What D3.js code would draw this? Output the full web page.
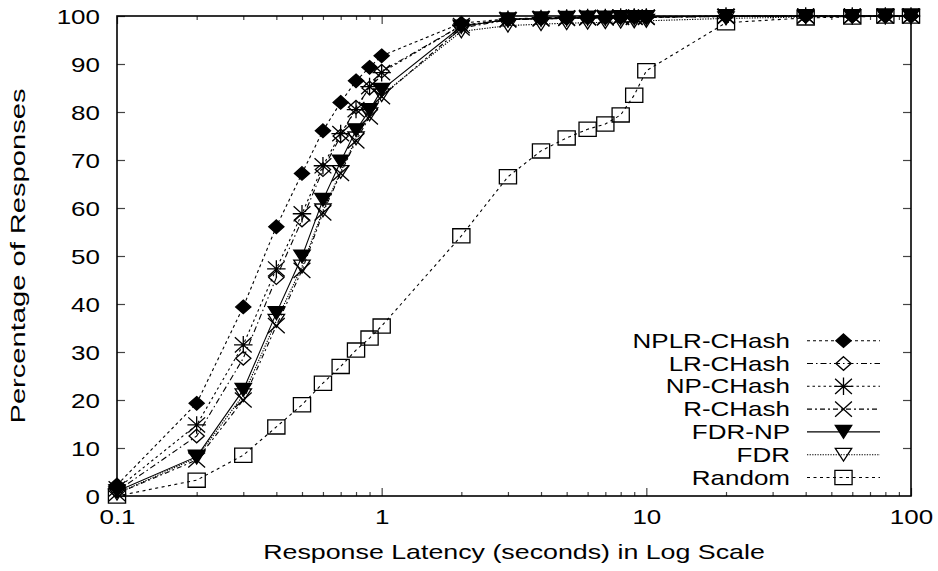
<!DOCTYPE html>
<html>
<head>
<meta charset="utf-8">
<script src="https://cdn.jsdelivr.net/npm/d3@7"></script>
<style>
  html, body { margin: 0; padding: 0; background: #fff; }
  svg { display: block; }
  text { font-family: "Liberation Sans", Arial, Helvetica, sans-serif; fill: #000; }
</style>
</head>
<body>
<svg id="chart" width="938" height="571"></svg>
<script>
// Response latency (seconds) at which each cumulative percentage is measured
const latencies = [0.1, 0.2, 0.3, 0.4, 0.5, 0.6, 0.7, 0.8, 0.9, 1, 2, 3, 4, 5, 6, 7, 8, 9, 10, 20, 40, 60, 80, 100];

// Cumulative percentage of responses per scheme
const nplrCHash = [2.3, 19.3, 39.4, 56.1, 67.2, 76.1, 82.0, 86.5, 89.3, 91.7, 98.5, 99.4, 99.6, 99.7, 99.8, 99.8, 99.8, 99.9, 99.9, 100, 100, 100, 100, 100];
const lrCHash   = [1.0, 12.5, 28.7, 45.5, 57.5, 68.0, 75.0, 81.0, 85.0, 88.5, 98.0, 99.2, 99.4, 99.5, 99.6, 99.6, 99.7, 99.7, 99.7, 99.9, 100, 100, 100, 100];
const npCHash   = [1.5, 14.8, 31.5, 47.3, 58.8, 68.8, 75.5, 80.5, 85.3, 88.2, 98.0, 99.3, 99.5, 99.6, 99.7, 99.7, 99.8, 99.8, 99.8, 100, 100, 100, 100, 100];
const rCHash    = [0.5, 7.5, 20.0, 35.5, 47.0, 59.0, 67.2, 74.0, 79.0, 83.2, 97.5, 99.2, 99.4, 99.5, 99.6, 99.6, 99.7, 99.7, 99.7, 99.9, 100, 100, 100, 100];
const fdrNP     = [1.0, 8.2, 22.1, 38.1, 49.9, 61.7, 69.7, 76.2, 80.4, 84.6, 97.8, 99.3, 99.5, 99.6, 99.7, 99.7, 99.8, 99.8, 99.8, 100, 100, 100, 100, 100];
const fdr       = [0.5, 8.0, 21.0, 36.5, 47.8, 59.5, 67.5, 74.5, 79.5, 83.5, 96.8, 98.0, 98.3, 98.5, 98.6, 98.7, 98.8, 98.9, 99.0, 99.5, 99.8, 99.9, 100, 100];
const random    = [0.0, 3.3, 8.5, 14.4, 19.0, 23.5, 27.0, 30.4, 32.9, 35.4, 54.2, 66.5, 71.9, 74.6, 76.4, 77.5, 79.4, 83.5, 88.6, 98.6, 99.6, 99.8, 100, 100];

const seriesNames = ["NPLR-CHash", "LR-CHash", "NP-CHash", "R-CHash", "FDR-NP", "FDR", "Random"];
const seriesValues = [nplrCHash, lrCHash, npCHash, rCHash, fdrNP, fdr, random];

const xMajorTicks = [0.1, 1, 10, 100];
const xTickLabels = ["0.1", "1", "10", "100"];
const yTicks = [0, 10, 20, 30, 40, 50, 60, 70, 80, 90, 100];

const xTitle = "Response Latency (seconds) in Log Scale";
const yTitle = "Percentage of Responses";

// Per-series drawing style: marker shape and dash pattern
const styles = [
  { marker: "diamondFilled", dash: "3,3" },
  { marker: "diamondOpen",   dash: "6,3,1.5,3" },
  { marker: "star",          dash: "2.5,3" },
  { marker: "cross",         dash: "5,3,2,3" },
  { marker: "triFilled",     dash: null },
  { marker: "triOpen",       dash: "1.3,1.3" },
  { marker: "square",        dash: "3,3.5" }
];

const FONT = 20, SX = 1.3;   // text is drawn slightly wide

const svg = d3.select("#chart");
const plotLeft = 117, plotRight = 911, plotTop = 16, plotBottom = 496;

const x = d3.scaleLog().domain([0.1, 100]).range([plotLeft, plotRight]);
const y = d3.scaleLinear().domain([0, 100]).range([plotBottom, plotTop]);

// Minor ticks 2..9 within each decade
const xMinorTicks = [];
[0.1, 1, 10].forEach(d => { for (let k = 2; k <= 9; k++) xMinorTicks.push(+(d * k).toPrecision(3)); });

function styleAxis(g) {
  g.select(".domain").remove();
  g.selectAll("line").attr("stroke", "#444").attr("stroke-width", 1.2);
}

// Bottom axis: major ticks with labels, minor ticks without
svg.append("g").attr("transform", `translate(0,${plotBottom})`)
  .call(d3.axisBottom(x).tickValues(xMajorTicks).tickSize(-8).tickFormat((d, i) => xTickLabels[i]))
  .call(styleAxis)
  .call(g => g.selectAll("text")
    .attr("y", 0).attr("dy", 0)
    .attr("transform", `translate(0,28) scale(${SX},1)`)
    .attr("font-size", FONT).attr("font-family", null));
svg.append("g").attr("transform", `translate(0,${plotBottom})`)
  .call(d3.axisBottom(x).tickValues(xMinorTicks).tickSize(-4).tickFormat(""))
  .call(styleAxis);

// Top axis mirrors the tick marks
svg.append("g").attr("transform", `translate(0,${plotTop})`)
  .call(d3.axisTop(x).tickValues(xMajorTicks).tickSize(-8).tickFormat(""))
  .call(styleAxis);
svg.append("g").attr("transform", `translate(0,${plotTop})`)
  .call(d3.axisTop(x).tickValues(xMinorTicks).tickSize(-4).tickFormat(""))
  .call(styleAxis);

// Left axis with labels, right axis mirrored ticks
svg.append("g").attr("transform", `translate(${plotLeft},0)`)
  .call(d3.axisLeft(y).tickValues(yTicks).tickSize(-8).tickFormat(d3.format("d")))
  .call(styleAxis)
  .call(g => g.selectAll("text")
    .attr("x", 0).attr("dy", "0.35em")
    .attr("transform", `translate(-17,0) scale(${SX},1)`)
    .attr("font-size", FONT).attr("font-family", null));
svg.append("g").attr("transform", `translate(${plotRight},0)`)
  .call(d3.axisRight(y).tickValues(yTicks.slice(1, -1)).tickSize(-8).tickFormat(""))
  .call(styleAxis);

// Plot border
svg.append("rect")
  .attr("x", plotLeft).attr("y", plotTop)
  .attr("width", plotRight - plotLeft).attr("height", plotBottom - plotTop)
  .attr("fill", "none").attr("stroke", "#000").attr("stroke-width", 1.6);

// Axis titles
svg.append("text")
  .attr("transform", `translate(${(plotLeft + plotRight) / 2},559) scale(1.34,1)`)
  .attr("text-anchor", "middle").attr("font-size", FONT)
  .text(xTitle);
svg.append("text")
  .attr("transform", `translate(25,256) rotate(-90)`)
  .attr("text-anchor", "middle").attr("font-size", FONT)
  .attr("textLength", 335).attr("lengthAdjust", "spacingAndGlyphs")
  .text(yTitle);

// Marker path, centred at (cx, cy)
function markerPath(type, cx, cy) {
  const p = d3.path();
  if (type === "diamondFilled" || type === "diamondOpen") {
    const w = 7.6, h = 6.8;
    p.moveTo(cx, cy - h); p.lineTo(cx + w, cy); p.lineTo(cx, cy + h); p.lineTo(cx - w, cy); p.closePath();
  } else if (type === "square") {
    const w = 8.6, h = 7.1;
    p.rect(cx - w, cy - h, 2 * w, 2 * h);
  } else if (type === "cross") {
    const w = 8.4, h = 7.6;
    p.moveTo(cx - w, cy - h); p.lineTo(cx + w, cy + h);
    p.moveTo(cx - w, cy + h); p.lineTo(cx + w, cy - h);
  } else if (type === "star") {
    const w = 8.4, h = 7.6;
    p.moveTo(cx - w, cy - h); p.lineTo(cx + w, cy + h);
    p.moveTo(cx - w, cy + h); p.lineTo(cx + w, cy - h);
    p.moveTo(cx, cy - h * 1.15); p.lineTo(cx, cy + h * 1.15);
    p.moveTo(cx - w * 1.1, cy); p.lineTo(cx + w * 1.1, cy);
  } else if (type === "triFilled" || type === "triOpen") {
    const w = 8.2, h = 6.4;
    p.moveTo(cx - w, cy - h); p.lineTo(cx + w, cy - h); p.lineTo(cx, cy + h); p.closePath();
  }
  return p.toString();
}
function markerFill(type) {
  return (type === "diamondFilled" || type === "triFilled") ? "#000" : "none";
}

const line = d3.line().x(d => x(d[0])).y(d => y(d[1]));

const plot = svg.append("g");
seriesValues.forEach((vals, si) => {
  const st = styles[si];
  const pts = latencies.map((t, i) => [t, vals[i]]);
  const g = plot.append("g").attr("class", "series");
  g.append("path")
    .attr("d", line(pts))
    .attr("fill", "none").attr("stroke", "#000").attr("stroke-width", 1.1)
    .attr("stroke-dasharray", st.dash);
  g.selectAll("path.mk").data(pts).join("path").attr("class", "mk")
    .attr("d", d => markerPath(st.marker, x(d[0]), y(d[1])))
    .attr("fill", markerFill(st.marker))
    .attr("stroke", "#000").attr("stroke-width", 1.3);
});

// Legend
const legendTextRight = 790, sampleX0 = 807, sampleX1 = 880, legendTop = 340.7, legendStep = 22.8;
const legend = svg.append("g");
seriesNames.forEach((name, i) => {
  const st = styles[i];
  const cy = legendTop + i * legendStep;
  legend.append("text")
    .attr("transform", `translate(${legendTextRight},${cy + 7}) scale(${SX},1)`)
    .attr("text-anchor", "end").attr("font-size", FONT)
    .text(name);
  legend.append("line")
    .attr("x1", sampleX0).attr("x2", sampleX1).attr("y1", cy).attr("y2", cy)
    .attr("stroke", "#000").attr("stroke-width", 1.1)
    .attr("stroke-dasharray", st.dash);
  legend.append("path")
    .attr("d", markerPath(st.marker, (sampleX0 + sampleX1) / 2, cy))
    .attr("fill", markerFill(st.marker))
    .attr("stroke", "#000").attr("stroke-width", 1.3);
});
</script>
</body>
</html>
